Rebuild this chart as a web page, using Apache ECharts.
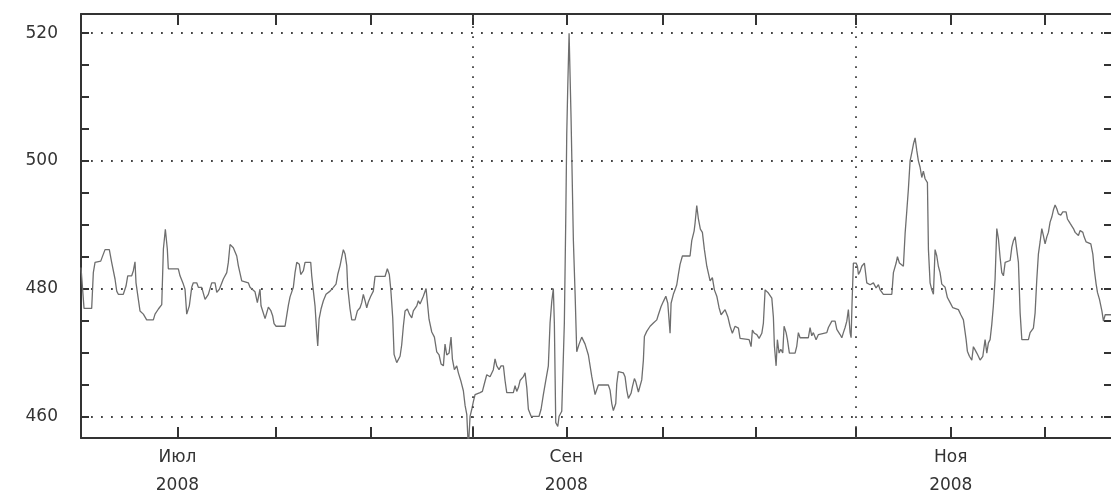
<!DOCTYPE html>
<html>
<head>
<meta charset="utf-8">
<title>Курс 2008</title>
<script src="https://cdn.jsdelivr.net/npm/echarts@6/dist/echarts.min.js"></script>
<style>
    html, body { margin: 0; padding: 0; background: #fff; }
    #chart { width: 1111px; height: 494px; }
</style>
</head>
<body>
<div id="chart"></div>
<script>
// x = days counted from 1 July 2008, y = value
var june = [
    [-15.25, 483.3], [-14.77, 476.9], [-13.56, 476.9], [-13.3, 482.5], [-13.03, 484.1], [-12.13, 484.3],
    [-11.45, 486.1], [-10.77, 486.1], [-10.4, 484.1], [-9.87, 481.5], [-9.6, 479.6], [-9.35, 479.1],
    [-8.56, 479.1], [-8.13, 480.4], [-7.86, 482.0], [-7.23, 482.0], [-6.97, 482.8], [-6.71, 484.2],
    [-6.55, 480.9], [-6.18, 478.3], [-5.92, 476.5], [-5.39, 476.0], [-4.86, 475.1], [-3.81, 475.1],
    [-3.54, 476.0], [-3.01, 476.8], [-2.48, 477.5], [-2.22, 486.2], [-1.91, 489.3], [-1.6, 486.2],
    [-1.44, 483.1]
]
var july = [
    [0.14, 483.1], [0.41, 482.0], [0.93, 480.7], [1.2, 479.9], [1.47, 476.0], [1.88, 477.3], [2.26, 480.2],
    [2.51, 480.9], [3.05, 480.9], [3.31, 480.2], [3.84, 480.2], [4.37, 478.3], [4.89, 479.1], [5.42, 480.9],
    [5.95, 480.9], [6.22, 479.4], [6.63, 479.9], [7.26, 481.5], [7.8, 482.5], [8.05, 484.1], [8.32, 486.9],
    [8.84, 486.4], [9.38, 485.1], [9.63, 483.6], [10.17, 481.2], [11.21, 480.9], [11.48, 480.2],
    [12.27, 479.5], [12.64, 477.8], [13.06, 479.9], [13.22, 477.3], [13.86, 475.3], [14.12, 475.0],
    [14.38, 477.1], [14.75, 476.6], [15.07, 475.7], [15.28, 474.5], [15.6, 474.1], [17.02, 474.1],
    [17.29, 475.8], [17.55, 477.4], [17.81, 478.7], [18.33, 480.2], [18.6, 482.5], [18.87, 484.1],
    [19.28, 483.8], [19.5, 482.2], [19.92, 482.8], [20.18, 484.1], [21.08, 484.1], [21.24, 482.0],
    [21.5, 479.6], [21.76, 477.3], [22.03, 473.1], [22.19, 471.0], [22.4, 475.2], [22.71, 476.8],
    [23.08, 478.1], [23.5, 479.1], [24.14, 479.6], [24.66, 480.2], [25.08, 480.7], [25.35, 482.2],
    [25.72, 483.6], [25.98, 484.9], [26.24, 486.1], [26.51, 485.4], [26.78, 483.6], [26.93, 480.2],
    [27.3, 476.8], [27.57, 475.1], [28.09, 475.1], [28.46, 476.5], [28.88, 477.0], [29.15, 477.8],
    [29.4, 479.1], [29.67, 478.1], [29.94, 477.0], [30.19, 477.9], [30.57, 478.8], [30.98, 479.6]
]
var august = [
    [31.25, 481.9], [32.83, 481.9], [33.2, 483.1], [33.51, 482.2], [33.74, 479.9], [34.05, 475.4],
    [34.26, 469.7], [34.68, 468.4], [34.94, 468.1], [35.21, 469.4], [35.47, 471.2], [35.73, 474.1],
    [36.0, 476.5], [36.36, 476.8], [36.68, 476.0], [37.06, 475.4], [37.31, 476.5], [37.85, 477.3],
    [38.1, 478.1], [38.37, 477.6], [38.89, 478.8], [39.32, 480.0], [39.79, 475.2], [40.22, 473.2],
    [40.64, 472.4], [41.01, 470.1], [41.38, 469.6], [41.69, 468.2], [42.06, 467.9], [42.32, 471.3],
    [42.59, 469.6], [42.96, 469.9], [43.27, 472.4], [43.48, 469.0], [43.8, 467.3], [44.17, 467.9],
    [44.43, 466.8], [44.86, 465.4], [45.22, 464.0], [45.49, 461.7], [45.76, 460.3], [46.01, 455.0],
    [46.28, 460.0], [46.55, 461.1], [46.8, 462.3], [47.07, 463.4], [47.86, 463.7], [48.23, 463.9],
    [48.54, 465.1], [48.92, 466.5], [49.44, 466.2], [49.96, 467.3], [50.23, 469.0], [50.5, 467.9],
    [50.86, 467.3], [51.18, 467.9], [51.55, 467.9], [51.81, 465.6], [52.08, 463.7], [53.13, 463.7],
    [53.4, 464.8], [53.66, 463.9], [53.92, 464.5], [54.19, 465.6], [54.71, 466.2], [54.98, 466.8],
    [55.25, 464.5], [55.5, 461.1], [55.93, 460.0], [57.19, 460.0], [57.51, 461.1], [57.87, 463.4],
    [58.25, 465.6], [58.66, 467.9], [58.93, 474.6], [59.2, 478.0], [59.45, 480.0], [59.61, 474.6],
    [59.83, 459.0], [60.15, 458.4], [60.36, 460.0], [60.78, 460.8], [61.03, 461.1], [61.19, 474.6],
    [61.41, 490.6], [61.57, 504.2], [61.73, 511.6], [61.94, 520.0]
]
var september = [
    [62.14, 520.0], [62.25, 506.8], [62.46, 506.8], [62.62, 487.5], [62.89, 479.2], [63.15, 470.1],
    [63.52, 471.3], [63.94, 472.4], [64.47, 471.3], [64.99, 469.6], [65.53, 466.2], [66.05, 463.4],
    [66.57, 464.9], [68.15, 464.9], [68.42, 464.1], [68.69, 462.0], [68.94, 460.9], [69.32, 462.0],
    [69.48, 465.1], [69.73, 467.0], [70.52, 466.8], [70.79, 466.2], [71.06, 464.1], [71.32, 462.8],
    [71.74, 463.6], [71.95, 464.6], [72.27, 465.9], [72.49, 465.4], [72.74, 465.7], [72.9, 463.8],
    [73.17, 464.1], [73.43, 465.7], [73.69, 468.8], [73.85, 472.5], [74.22, 473.3], [74.75, 474.1],
    [75.27, 474.6], [75.81, 475.1], [76.06, 475.9], [76.49, 477.2], [76.86, 478.0], [77.24, 478.8],
    [77.55, 477.7], [77.75, 475.1], [77.91, 473.0], [78.07, 477.7], [78.43, 479.1], [78.7, 479.8],
    [78.97, 480.6], [79.22, 482.2], [79.49, 483.8], [79.86, 485.1], [81.07, 485.1], [81.34, 487.5],
    [81.71, 489.0], [81.87, 490.3], [82.13, 493.0], [82.39, 490.9], [82.7, 489.3], [83.02, 488.8],
    [83.34, 486.1], [83.72, 483.5], [84.24, 481.2], [84.6, 481.7], [84.92, 479.8], [85.3, 478.8],
    [85.66, 477.0], [85.98, 475.9], [86.61, 476.7], [87.04, 475.6], [87.4, 474.1], [87.76, 473.0],
    [88.19, 474.1], [88.72, 473.8], [88.98, 472.2], [90.41, 472.0], [90.72, 470.9], [90.93, 473.5],
    [91.25, 473.0], [91.63, 472.8]
]
var october = [
    [91.99, 472.2], [92.42, 473.0], [92.67, 474.6], [92.94, 479.8], [93.2, 479.8], [93.46, 479.3],
    [94.0, 478.5], [94.25, 475.5], [94.41, 471.0], [94.68, 467.9], [94.88, 472.0], [95.15, 469.9],
    [95.42, 470.5], [95.73, 469.9], [95.94, 474.1], [96.26, 473.1], [96.47, 472.0], [96.78, 469.9],
    [97.68, 469.9], [97.95, 471.0], [98.2, 473.1], [98.47, 472.3], [99.78, 472.3], [100.05, 473.9],
    [100.32, 472.6], [100.57, 473.1], [101.0, 472.0], [101.37, 472.8], [102.7, 473.1], [102.95, 473.9],
    [103.49, 474.9], [104.01, 474.9], [104.28, 473.6], [104.8, 472.8], [105.07, 472.3], [105.32, 473.1],
    [105.59, 473.9], [105.86, 474.9], [106.11, 476.7], [106.38, 473.1], [106.54, 472.3], [106.69, 477.8],
    [106.9, 484.0], [107.33, 484.0], [107.54, 483.5], [107.7, 482.2], [107.96, 482.7], [108.23, 483.5],
    [108.64, 484.0], [109.02, 480.9], [109.55, 480.6], [109.81, 480.4], [110.07, 480.9], [110.49, 480.1],
    [110.86, 480.6], [111.13, 479.8], [111.65, 479.1], [112.98, 479.1], [113.23, 482.5], [113.66, 484.0],
    [113.87, 485.0], [114.18, 484.0], [114.81, 483.5], [115.08, 488.6], [115.35, 492.2], [115.6, 495.6],
    [115.87, 500.0], [116.14, 501.3], [116.39, 502.6], [116.66, 503.6], [116.93, 501.6], [117.18, 500.0],
    [117.45, 499.0], [117.72, 497.4], [117.97, 498.4], [118.24, 497.2], [118.61, 496.6], [118.77, 486.1],
    [119.03, 480.9], [119.3, 479.8], [119.56, 479.1], [119.82, 486.1], [120.09, 485.1], [120.34, 483.5],
    [120.61, 482.5], [120.88, 480.7], [121.41, 480.2], [121.77, 478.6], [122.2, 477.8], [122.62, 477.0]
]
var november = [
    [123.51, 476.7], [123.89, 475.9], [124.3, 475.1], [124.73, 472.0], [124.93, 470.2], [125.25, 469.4],
    [125.63, 468.8], [125.88, 470.9], [126.15, 470.4], [126.42, 469.9], [126.67, 469.4], [126.94, 468.8],
    [127.37, 469.4], [127.73, 472.0], [128.0, 469.9], [128.25, 471.5], [128.52, 472.0], [128.79, 474.4],
    [129.04, 477.3], [129.31, 481.5], [129.58, 489.4], [129.84, 487.8], [130.1, 484.9], [130.37, 482.5],
    [130.63, 482.0], [130.9, 484.1], [131.69, 484.4], [131.96, 486.5], [132.21, 487.5], [132.48, 488.1],
    [132.75, 487.8], [133.0, 484.1], [133.27, 476.2], [133.54, 472.0], [134.58, 472.0], [134.85, 473.1],
    [135.37, 473.8], [135.64, 476.2], [135.91, 481.5], [136.16, 485.4], [136.43, 487.3], [136.7, 489.4],
    [136.95, 488.3], [137.22, 487.0], [137.49, 488.1], [137.74, 488.8], [138.01, 490.4], [138.28, 491.2],
    [138.53, 492.3], [138.8, 493.1], [139.07, 492.5], [139.32, 491.7], [139.7, 491.5], [140.02, 492.0],
    [140.54, 492.0], [140.75, 490.9], [141.18, 490.2], [141.7, 489.4], [141.97, 488.8], [142.24, 489.1],
    [142.49, 488.3], [142.76, 489.1], [143.19, 488.8], [143.39, 488.1], [143.71, 487.3], [144.45, 487.0],
    [144.77, 485.4], [144.98, 483.1], [145.29, 480.7], [145.5, 479.4], [145.82, 478.3], [146.2, 476.5],
    [146.45, 474.9], [146.72, 475.9], [147.9, 475.9]
]

// x ticks (roughly every half month, in days from 1 July)
var xTicks = [0, 15.6, 30.5, 46.75, 61.5, 76.8, 91.5, 107.3, 122.3, 137.2]
var monthDays = [0, 61.5, 122.3]
var monthNames = ['Июл', 'Сен', 'Ноя']
var yearLabel = '2008'
var gridDays = [46.75, 107.3] // vertical dotted lines
var yLabels = [460, 480, 500, 520]

var xMin = -15.25
var xMax = 147.8
var yMin = 456.6
var yMax = 523.0

var font = 'DejaVu Sans'
var dots = { color: '#444', width: 1.8, type: [1.8, 8.2] }
var frame = { color: '#333', width: 2 }

var myChart = echarts.init(document.getElementById('chart'))

function xAxisBox (pos, withLabels) {
    return {
        type: 'value',
        position: pos,
        min: xMin,
        max: xMax,
        axisLine: { onZero: false, lineStyle: frame },
        axisTick: { inside: true, length: 11, lineStyle: frame, customValues: xTicks },
        splitLine: { show: false },
        axisLabel: withLabels ? {
            customValues: monthDays,
            margin: 6,
            fontFamily: font,
            fontSize: 17,
            lineHeight: 28,
            color: '#333',
            formatter: function (v) {
                var i = monthDays.indexOf(v)
                return i < 0 ? '' : monthNames[i] + '\n' + yearLabel
            }
        } : { show: false }
    }
}

function yAxisBox (pos) {
    return {
        type: 'value',
        position: pos,
        min: yMin,
        max: yMax,
        minInterval: 5,
        maxInterval: 5,
        axisLine: { show: true, onZero: false, lineStyle: frame },
        axisTick: { show: true, inside: true, length: 8, lineStyle: frame },
        axisLabel: { show: false },
        splitLine: { show: false }
    }
}

var option = {
    animation: false,
    backgroundColor: '#fff',
    grid: { left: 81, right: -1, top: 14, bottom: 56, containLabel: false, outerBoundsMode: 'none' },
    xAxis: [xAxisBox('bottom', true), xAxisBox('top', false)],
    yAxis: [yAxisBox('left'), yAxisBox('right'), {
        // labels and dotted lines every 20
        type: 'value',
        position: 'left',
        min: yMin,
        max: yMax,
        minInterval: 20,
        maxInterval: 20,
        axisLine: { show: false, onZero: false },
        axisTick: { show: false },
        axisLabel: {
            margin: 23,
            fontFamily: font,
            fontSize: 17,
            color: '#333',
            formatter: function (v) {
                return yLabels.indexOf(Math.round(v * 10) / 10) >= 0 ? String(Math.round(v)) : ''
            }
        },
        splitLine: { show: true, lineStyle: dots }
    }],
    series: [{
        type: 'line',
        xAxisIndex: 0,
        yAxisIndex: 0,
        showSymbol: false,
        symbol: 'none',
        clip: true,
        z: 3,
        lineStyle: { color: '#6e6e6e', width: 1.3 },
        data: june.concat(july, august, september, october, november),
        markLine: {
            silent: true,
            symbol: ['none', 'none'],
            label: { show: false },
            lineStyle: dots,
            emphasis: { disabled: true },
            data: gridDays.map(function (d) { return { xAxis: d } })
        }
    }]
}
myChart.setOption(option)
</script>
</body>
</html>
